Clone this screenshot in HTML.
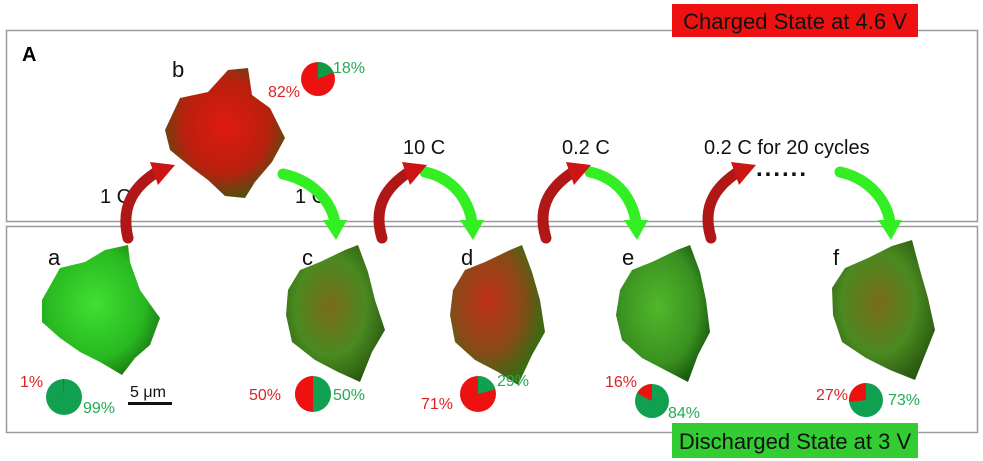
<!DOCTYPE html>
<html><head><meta charset="utf-8"><style>body{margin:0;background:#fff}svg{display:block}</style></head><body>
<svg width="983" height="461" viewBox="0 0 983 461" xmlns="http://www.w3.org/2000/svg" font-family="Liberation Sans, sans-serif">
<defs>
<radialGradient id="gR" cx="50%" cy="45%" r="60%"><stop offset="0" stop-color="#e01a10"/><stop offset="0.6" stop-color="#b8200e"/><stop offset="1" stop-color="#3a5a10"/></radialGradient>
<radialGradient id="gG" cx="45%" cy="45%" r="60%"><stop offset="0" stop-color="#40e030"/><stop offset="0.7" stop-color="#28b820"/><stop offset="1" stop-color="#1a7a12"/></radialGradient>
<radialGradient id="gM" cx="45%" cy="45%" r="60%"><stop offset="0" stop-color="#7a6a1a"/><stop offset="0.6" stop-color="#4a8a20"/><stop offset="1" stop-color="#2a5a10"/></radialGradient>
<radialGradient id="gD" cx="40%" cy="40%" r="60%"><stop offset="0" stop-color="#c0301a"/><stop offset="0.6" stop-color="#8a4a18"/><stop offset="1" stop-color="#3a6a14"/></radialGradient>
<radialGradient id="gE" cx="45%" cy="45%" r="60%"><stop offset="0" stop-color="#50b82a"/><stop offset="0.7" stop-color="#3a9020"/><stop offset="1" stop-color="#1a5a10"/></radialGradient>
</defs>
<rect x="6.5" y="30.5" width="971" height="191" fill="none" stroke="#999" stroke-width="1.5"/>
<rect x="6.5" y="226.5" width="971" height="206" fill="none" stroke="#999" stroke-width="1.5"/>
<rect x="672" y="4" width="246" height="33" fill="#ee1111"/>
<text x="795" y="29" font-size="22" text-anchor="middle" fill="#111">Charged State at 4.6 V</text>
<rect x="672" y="423" width="246" height="35" fill="#33cc33"/>
<text x="795" y="449" font-size="22" text-anchor="middle" fill="#111">Discharged State at 3 V</text>
<text x="22" y="61" font-size="20" font-weight="bold">A</text>
<g font-size="22" fill="#111">
<text x="172" y="77">b</text><text x="48" y="265">a</text><text x="302" y="265">c</text><text x="461" y="265">d</text><text x="622" y="265">e</text><text x="833" y="265">f</text>
</g>
<g font-size="20" fill="#111">
<text x="100" y="203">1 C</text><text x="295" y="203">1 C</text><text x="403" y="154">10 C</text><text x="562" y="154">0.2 C</text><text x="704" y="154">0.2 C for 20 cycles</text>
</g>
<text x="756" y="176" font-size="24" font-weight="bold" fill="#111" letter-spacing="2">......</text>
<!-- particles -->
<path d="M165,130 L180,98 L208,92 L228,70 L248,68 L252,95 L270,108 L285,138 L272,162 L255,182 L245,198 L225,196 L208,180 L192,168 L170,150 Z" fill="url(#gR)"/>
<path d="M42,300 L60,268 L85,262 L105,250 L128,245 L130,262 L140,290 L160,318 L150,345 L135,358 L122,375 L100,362 L80,352 L60,338 L42,322 Z" fill="url(#gG)"/>
<path d="M288,290 L300,270 L320,262 L345,250 L358,245 L368,272 L375,300 L385,330 L372,352 L360,382 L338,372 L315,360 L292,342 L286,315 Z" fill="url(#gM)"/>
<path d="M453,290 L465,270 L485,262 L510,250 L522,245 L532,272 L540,300 L545,332 L532,355 L518,385 L498,372 L475,360 L455,342 L450,315 Z" fill="url(#gD)"/>
<path d="M620,290 L632,270 L652,262 L677,250 L690,245 L700,272 L706,300 L710,332 L698,355 L688,382 L665,370 L642,358 L622,340 L616,315 Z" fill="url(#gE)"/>
<path d="M832,288 L845,268 L868,258 L892,246 L912,240 L920,270 L928,298 L935,330 L925,355 L915,380 L890,370 L866,358 L842,342 L833,315 Z" fill="url(#gM)"/>
<!-- arrows -->
<g fill="none" stroke-linecap="round">
<path d="M128,238 C120,205 135,185 160,170" stroke="#b01818" stroke-width="11"/>
<path d="M382,238 C372,205 388,185 412,170" stroke="#b01818" stroke-width="11"/>
<path d="M546,238 C536,205 552,185 576,170" stroke="#b01818" stroke-width="11"/>
<path d="M711,238 C701,205 717,185 741,170" stroke="#b01818" stroke-width="11"/>
<path d="M283,174 C310,180 330,198 335,222" stroke="#33ee22" stroke-width="11"/>
<path d="M425,172 C452,178 468,198 472,222" stroke="#33ee22" stroke-width="11"/>
<path d="M590,172 C617,178 632,198 636,222" stroke="#33ee22" stroke-width="11"/>
<path d="M840,172 C867,178 886,198 890,222" stroke="#33ee22" stroke-width="11"/>
</g>
<g fill="#cc1515">
<polygon points="150,162 175,165 158,185"/><polygon points="402,162 427,165 410,185"/><polygon points="566,162 591,165 574,185"/><polygon points="731,162 756,165 739,185"/>
</g>
<g fill="#33ee22">
<polygon points="323,220 347,220 336,240"/><polygon points="460,220 484,220 473,240"/><polygon points="624,220 648,220 637,240"/><polygon points="878,220 902,220 891,240"/>
</g>
<!-- pies -->
<circle cx="318" cy="79" r="17" fill="#ee1111"/><path d="M318,79 L318,62 A17,17 0 0 1 333.6,72.3 Z" fill="#119944"/>
<circle cx="64" cy="397" r="18" fill="#11a050"/><path d="M64,397 L64,379 L62.9,379 Z" fill="#ee1111"/>
<circle cx="313" cy="394" r="18" fill="#11a050"/><path d="M313,394 L313,376 A18,18 0 0 0 313,412 Z" fill="#ee1111"/>
<circle cx="478" cy="394" r="18" fill="#ee1111"/><path d="M478,394 L478,376 A18,18 0 0 1 495.4,389.3 Z" fill="#11a050"/>
<circle cx="652" cy="401" r="17" fill="#11a050"/><path d="M652,401 L652,384 A17,17 0 0 0 637.1,393.2 Z" fill="#ee1111"/>
<circle cx="866" cy="400" r="17" fill="#11a050"/><path d="M866,400 L866,383 A17,17 0 0 0 849.1,402 Z" fill="#ee1111"/>
<g font-size="16">
<text x="333" y="73" fill="#22aa55">18%</text><text x="268" y="97" fill="#dd2222">82%</text>
<text x="20" y="387" fill="#dd2222">1%</text><text x="83" y="413" fill="#22aa55">99%</text>
<text x="249" y="400" fill="#dd2222">50%</text><text x="333" y="400" fill="#22aa55">50%</text>
<text x="421" y="409" fill="#dd2222">71%</text><text x="497" y="386" fill="#22aa55">29%</text>
<text x="605" y="387" fill="#dd2222">16%</text><text x="668" y="418" fill="#22aa55">84%</text>
<text x="816" y="400" fill="#dd2222">27%</text><text x="888" y="405" fill="#22aa55">73%</text>
</g>
<text x="130" y="397" font-size="16" fill="#111">5 μm</text>
<rect x="128" y="402" width="44" height="3" fill="#111"/>
</svg>
</body></html>
